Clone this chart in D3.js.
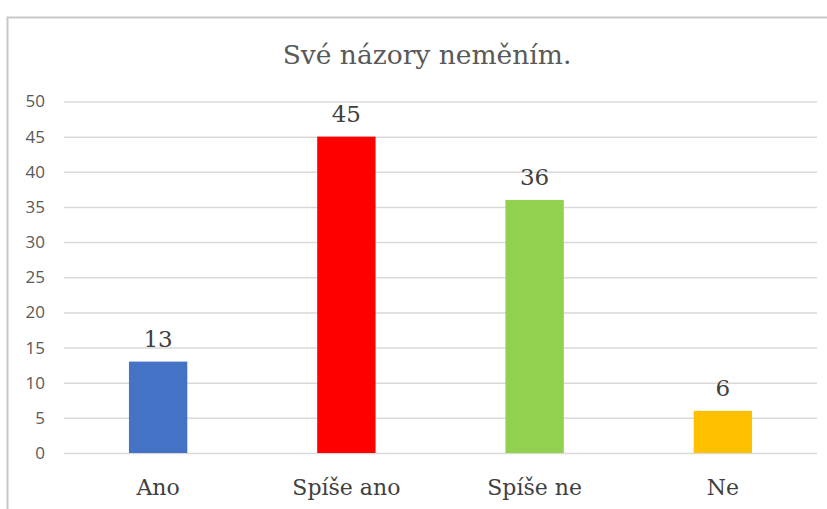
<!DOCTYPE html>
<html>
<head>
<meta charset="utf-8">
<script src="https://cdn.jsdelivr.net/npm/d3@7"></script>
<style>
	body { margin: 0; background: #fff; }
	svg { display: block; }
</style>
</head>
<body>
<script>

// Data

var
	title = 'Své názory neměním.',
	categories = ['Ano', 'Spíše ano', 'Spíše ne', 'Ne'],
	values = [13, 45, 36, 6],
	colors = ['#4472C4', '#FF0000', '#92D050', '#FFC000'],
	yTicks = [0, 5, 10, 15, 20, 25, 30, 35, 40, 45, 50];

var
	width = 827,
	height = 509,
	margin = {top: 101.5, right: 10, bottom: 56, left: 64},

	svg = d3.select('body').append('svg')
		.attr('width', width)
		.attr('height', height),

	x = d3.scaleBand()
		.domain(categories)
		.range([margin.left, width - margin.right])
		.paddingInner(0.69)
		.paddingOuter(0.345),

	y = d3.scaleLinear()
		.domain([0, 50])
		.range([height - margin.bottom, margin.top]);

// Frame

svg.append('path')
	.attr('d', 'M7.5,' + (height + 2) + 'V17.5H' + (width + 2))
	.style('fill', 'none')
	.style('stroke', '#c8c8c8')
	.style('stroke-width', 2);

// Title

svg.append('text')
	.attr('x', 427)
	.attr('y', 64)
	.attr('text-anchor', 'middle')
	.style('font-family', 'DejaVu Serif, serif')
	.style('font-size', '26.5px')
	.style('fill', '#595959')
	.text(title);

// Gridlines + y labels

var yAxis = svg.append('g')
	.attr('transform', 'translate(' + margin.left + ',0)')
	.call(d3.axisLeft(y)
		.tickValues(yTicks)
		.tickSize(-(width - margin.left - margin.right))
		.tickPadding(19));

yAxis.select('.domain').remove();
yAxis.selectAll('.tick line')
	.style('stroke', '#d9d9d9')
	.style('stroke-width', 1.5);
yAxis.selectAll('.tick text')
	.style('font-family', 'Open Sans, sans-serif')
	.style('font-size', '17px')
	.style('fill', '#595959');

// Bars

svg.selectAll('rect.bar')
	.data(values)
	.enter()
	.append('rect')
	.attr('class', 'bar')
	.attr('x', function(d, i) {return x(categories[i]);})
	.attr('width', x.bandwidth())
	.attr('y', function(d) {return y(d);})
	.attr('height', function(d) {return y(0) - y(d);})
	.style('fill', function(d, i) {return colors[i];});

// Value labels

svg.selectAll('text.value')
	.data(values)
	.enter()
	.append('text')
	.attr('class', 'value')
	.attr('x', function(d, i) {return x(categories[i]) + x.bandwidth() / 2;})
	.attr('y', function(d) {return y(d) - 15;})
	.attr('text-anchor', 'middle')
	.style('font-family', 'DejaVu Serif, serif')
	.style('font-size', '23px')
	.style('fill', '#404040')
	.text(function(d) {return d;});

// Category labels

svg.selectAll('text.cat')
	.data(categories)
	.enter()
	.append('text')
	.attr('class', 'cat')
	.attr('x', function(d) {return x(d) + x.bandwidth() / 2;})
	.attr('y', 495)
	.attr('text-anchor', 'middle')
	.style('font-family', 'DejaVu Serif, serif')
	.style('font-size', '22px')
	.style('fill', '#404040')
	.text(function(d) {return d;});

</script>
</body>
</html>
